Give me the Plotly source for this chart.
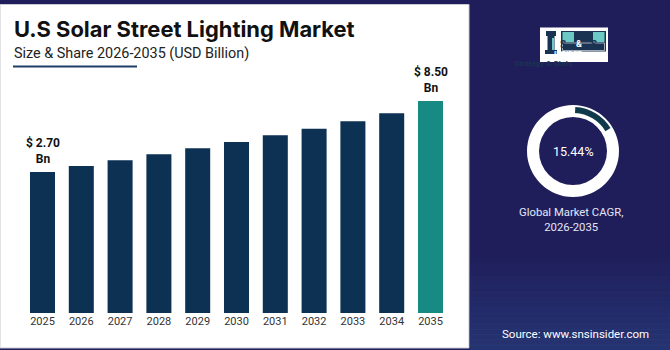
import plotly.graph_objects as go

# ---------------- data ----------------
years = ["2025", "2026", "2027", "2028", "2029", "2030", "2031", "2032", "2033", "2034", "2035"]
values = [2.70, 3.19, 3.66, 4.15, 4.64, 5.16, 5.70, 6.24, 6.85, 7.50, 8.50]
label_years = ["2025", "2035"]
cagr = 15.44

title = "U.S Solar Street Lighting Market"
subtitle = "Size & Share 2026-2035 (USD Billion)"
cagr_caption = "Global Market CAGR,<br>2026-2035"
source = "Source: www.snsinsider.com"

# ---------------- styling ----------------
W, H = 670, 350
NAVY_BG = "#1f1e5b"
BAR = "#0d3153"
TEAL = "#168a83"
BAR_BASE = -8.82
FONT = "Roboto"


def px(x):
    return x / W


def py(y):
    return 1 - y / H


fig = go.Figure()

idx = list(range(len(years)))
colors = [TEAL if y == years[-1] else BAR for y in years]
fig.add_trace(go.Bar(
    x=idx, y=[v - BAR_BASE for v in values], base=BAR_BASE,
    marker=dict(color=colors, line=dict(width=0)),
    width=0.645, hoverinfo="skip", showlegend=False,
))

# donut (white ring + teal arc)
fig.add_trace(go.Pie(
    values=[1], marker=dict(colors=["white"], line=dict(width=0)),
    hole=34 / 46, textinfo="none", hoverinfo="skip", showlegend=False, sort=False,
    domain=dict(x=[px(527), px(619)], y=[py(197), py(105)]),
))
fig.add_trace(go.Pie(
    values=[cagr, 100 - cagr],
    marker=dict(colors=["#0f3a4b", "rgba(0,0,0,0)"], line=dict(width=0)),
    hole=38 / 44, textinfo="none", hoverinfo="skip", showlegend=False, sort=False,
    direction="clockwise", rotation=3,
    domain=dict(x=[px(529), px(617)], y=[py(195), py(107)]),
))

shapes = []
# white panel
shapes.append(dict(type="rect", xref="paper", yref="paper", x0=px(0), x1=px(469), y0=py(348), y1=py(4.5),
                   fillcolor="white", line=dict(color="#c8c8d0", width=1), layer="below"))
# gradient at bottom of the right panel
n = 18
for i in range(n):
    t = (i + 1) / n
    y0 = 255 + i * (95 / n)
    shapes.append(dict(type="rect", xref="paper", yref="paper", x0=px(469.5), x1=px(670),
                       y0=py(y0 + 95 / n + 0.5), y1=py(y0), fillcolor="#2c4584",
                       opacity=0.55 * t, line=dict(width=0), layer="below"))
# subtitle underline
shapes.append(dict(type="line", xref="paper", yref="paper", x0=px(13), x1=px(137), y0=py(66.5), y1=py(66.5),
                   line=dict(color="#1f3d66", width=2)))
# logo
LOGO_NAVY = "#1b3352"
LOGO_TEAL = "#6ccac4"


def rect(x0, y0, x1, y1, fill, line=None):
    shapes.append(dict(type="rect", xref="paper", yref="paper", x0=px(x0), x1=px(x1), y0=py(y1), y1=py(y0),
                       fillcolor=fill, line=line or dict(width=0)))


rect(540, 27.5, 608, 62, "white")
rect(561, 31, 606, 51.5, LOGO_NAVY)
rect(562.5, 32, 574, 42, LOGO_TEAL)
rect(593, 32, 604.5, 42, LOGO_TEAL)
rect(562.5, 43, 604.5, 50.5, "rgba(0,0,0,0)", dict(color="white", width=0.6))
# rook icon
rect(546, 31, 556, 36, LOGO_NAVY)
rect(547.5, 36, 554.5, 50, LOGO_NAVY)
rect(545, 50, 557, 54, LOGO_NAVY)
rect(552, 38, 554, 50, LOGO_TEAL)

annotations = []
annotations.append(dict(text=title, xref="paper", yref="paper", x=px(12), y=py(29), xanchor="left",
                        yanchor="middle", showarrow=False,
                        font=dict(family="Inter", size=21.9, color="#111111", weight="bold")))
annotations.append(dict(text=subtitle, xref="paper", yref="paper", x=px(12), y=py(54), xanchor="left",
                        yanchor="middle", showarrow=False,
                        font=dict(family=FONT, size=14.4, color="#222222")))
for yr in label_years:
    i = years.index(yr)
    v = values[i]
    annotations.append(dict(text=f"$ {v:.2f}<br>Bn", x=i, y=v, xref="x", yref="y", yanchor="bottom",
                            yshift=5, showarrow=False, borderpad=0,
                            font=dict(family=FONT, size=12, color="#111111", weight="bold")))
annotations.append(dict(text=f"{cagr:.2f}%", xref="paper", yref="paper", x=px(573.5), y=py(151.5),
                        xanchor="center", yanchor="middle", showarrow=False,
                        font=dict(family=FONT, size=12.5, color="white")))
annotations.append(dict(text=cagr_caption, xref="paper", yref="paper", x=px(571), y=py(220),
                        xanchor="center", yanchor="middle", showarrow=False,
                        font=dict(family=FONT, size=11.3, color="#e4e6f6")))
annotations.append(dict(text=source, xref="paper", yref="paper", x=px(575), y=py(334),
                        xanchor="center", yanchor="middle", showarrow=False,
                        font=dict(family=FONT, size=11.5, color="white")))
# logo text
annotations.append(dict(text="S", xref="paper", yref="paper", x=px(568.3), y=py(37.2), showarrow=False,
                        font=dict(family=FONT, size=10, color=LOGO_NAVY, weight="bold")))
annotations.append(dict(text="&", xref="paper", yref="paper", x=px(583.5), y=py(37.2), showarrow=False,
                        font=dict(family=FONT, size=9, color="white", weight="bold")))
annotations.append(dict(text="S", xref="paper", yref="paper", x=px(598.8), y=py(37.2), showarrow=False,
                        font=dict(family=FONT, size=10, color=LOGO_NAVY, weight="bold")))
annotations.append(dict(text="INSIDER", xref="paper", yref="paper", x=px(583.5), y=py(46.8), showarrow=False,
                        font=dict(family=FONT, size=7.5, color="white", weight="bold")))
annotations.append(dict(text="Strategy & Stats", xref="paper", yref="paper", x=px(574), y=py(56.8),
                        showarrow=False, font=dict(family=FONT, size=8, color=LOGO_NAVY, weight="bold")))

plot_left, plot_right = 23.1, 449.9
y_bottom, y_top = 313.0, 60.0
scale = 12.24
fig.update_layout(
    width=W, height=H,
    margin=dict(l=0, r=0, t=0, b=0),
    paper_bgcolor=NAVY_BG,
    plot_bgcolor="rgba(0,0,0,0)",
    shapes=shapes,
    annotations=annotations,
    xaxis=dict(domain=[px(plot_left), px(plot_right)], range=[-0.5, len(years) - 0.5],
               tickmode="array", tickvals=idx, ticktext=years,
               showgrid=False, showline=False, zeroline=False, ticks="",
               tickfont=dict(family=FONT, size=11, color="#333333")),
    yaxis=dict(domain=[py(y_bottom), py(y_top)],
               range=[BAR_BASE, BAR_BASE + (y_bottom - y_top) / scale],
               visible=False, showgrid=False, zeroline=False),
    showlegend=False,
)

fig.write_html("out.html")
